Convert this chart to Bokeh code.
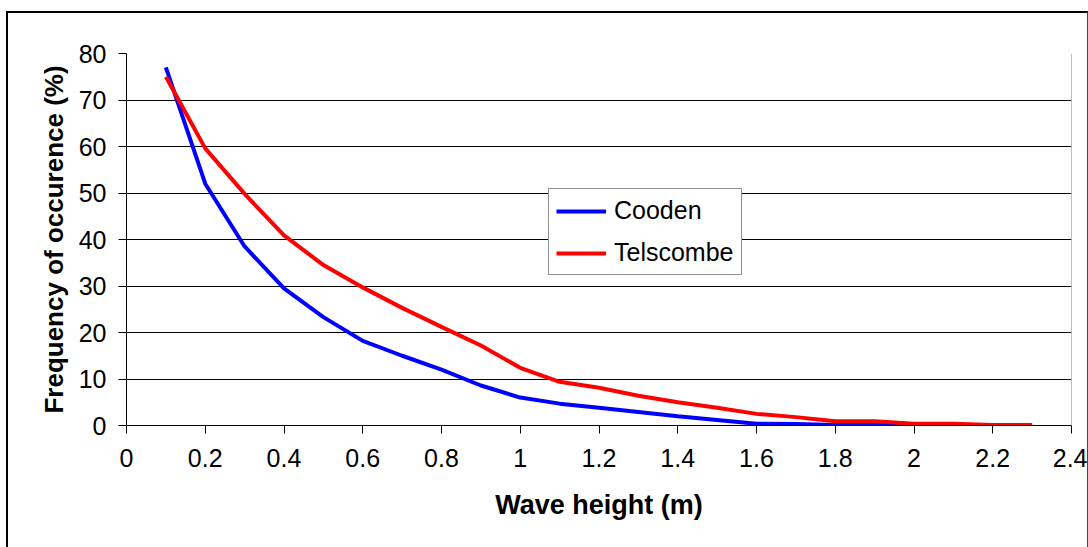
from bokeh.plotting import figure
from bokeh.models import (Span, FixedTicker, Legend, LegendItem,
                          ColumnDataSource, Range1d)
from bokeh.embed import file_html
from bokeh.resources import INLINE

# ---- data ----
wave_height = [0.1, 0.2, 0.3, 0.4, 0.5, 0.6, 0.7, 0.8, 0.9, 1.0, 1.1, 1.2,
               1.3, 1.4, 1.5, 1.6, 1.7, 1.8, 1.9, 2.0, 2.1, 2.2, 2.3]
cooden = [77.0, 52.0, 38.5, 29.5, 23.3, 18.2, 15.0, 12.0, 8.6, 6.0, 4.7, 3.8,
          2.9, 2.0, 1.2, 0.4, 0.3, 0.1, 0.1, 0.0, 0.0, 0.0, 0.0]
telscombe = [75.0, 59.6, 49.8, 40.9, 34.5, 29.7, 25.3, 21.2, 17.2, 12.4, 9.4, 8.1,
             6.4, 5.0, 3.8, 2.5, 1.8, 0.9, 0.9, 0.4, 0.4, 0.1, 0.1]

x_ticks = [0, 0.2, 0.4, 0.6, 0.8, 1.0, 1.2, 1.4, 1.6, 1.8, 2.0, 2.2, 2.4]
x_tick_labels = ["0", "0.2", "0.4", "0.6", "0.8", "1", "1.2", "1.4", "1.6",
                 "1.8", "2", "2.2", "2.4"]
y_ticks = [0, 10, 20, 30, 40, 50, 60, 70, 80]
y_tick_labels = ["0", "10", "20", "30", "40", "50", "60", "70", "80"]

series_names = ["Cooden", "Telscombe"]
series_colors = ["#0000FF", "#FF0000"]

FONT = "Liberation Sans"

# canvas placed at (8, 13) inside the outer chart border
p = figure(width=1079, height=534, output_backend="svg", toolbar_location=None,
           x_range=Range1d(0, 2.4), y_range=Range1d(0, 80),
           min_border_left=118, min_border_right=19, min_border_top=40,
           min_border_bottom=124)
p.margin = (11, 0, 0, 6)
p.styles = {"border-left": "2px solid black", "border-top": "2px solid black",
            "border-right": "1px solid #444444", "box-sizing": "content-box"}
p.background_fill_color = "white"
p.border_fill_color = "white"
p.outline_line_color = None

src = ColumnDataSource(dict(x=wave_height, cooden=cooden, telscombe=telscombe))
r1 = p.line("x", "cooden", source=src, line_color=series_colors[0], line_width=4)
r2 = p.line("x", "telscombe", source=src, line_color=series_colors[1], line_width=4)

# axes
p.xaxis.ticker = FixedTicker(ticks=x_ticks)
p.yaxis.ticker = FixedTicker(ticks=y_ticks)
p.xaxis.major_label_overrides = {v: s for v, s in zip(x_ticks, x_tick_labels)}
p.yaxis.major_label_overrides = {v: s for v, s in zip(y_ticks, y_tick_labels)}
for ax in (p.xaxis[0], p.yaxis[0]):
    ax.axis_line_color = "black"
    ax.axis_line_width = 1
    ax.major_tick_line_color = "black"
    ax.major_tick_out = 8
    ax.major_tick_in = 0
    ax.minor_tick_line_color = None
    ax.major_label_text_font = FONT
    ax.major_label_text_font_size = "25px"
    ax.major_label_text_color = "black"
    ax.axis_label_text_font = FONT
    ax.axis_label_text_font_style = "bold"
    ax.axis_label_text_color = "black"
p.xaxis.axis_label_text_font_size = "27px"
p.yaxis.axis_label_text_font_size = "26px"
p.xaxis.axis_label = "Wave height (m)"
p.yaxis.axis_label = "Frequency of occurence (%)"
p.xaxis.major_label_standoff = 15
p.yaxis.major_label_standoff = 12
p.xaxis.axis_label_standoff = 20
p.yaxis.axis_label_standoff = 7

p.xgrid.grid_line_color = None
p.ygrid.grid_line_color = "black"
p.ygrid.grid_line_width = 1

# right frame edge
p.add_layout(Span(location=2.4, dimension="height", line_color="#808080", line_width=1))

legend = Legend(items=[LegendItem(label=series_names[0], renderers=[r1]),
                       LegendItem(label=series_names[1], renderers=[r2])],
                location=(422, 150))
legend.label_text_font = FONT
legend.label_text_font_size = "25px"
legend.label_text_color = "black"
legend.glyph_width = 50
legend.glyph_height = 28
legend.label_height = 28
legend.label_standoff = 8
legend.padding = 7
legend.spacing = 13
legend.margin = 0
legend.border_line_color = "#222222"
legend.border_line_width = 1
legend.background_fill_color = "white"
legend.background_fill_alpha = 1
p.add_layout(legend)

open("out.html", "w").write(file_html(p, INLINE))
